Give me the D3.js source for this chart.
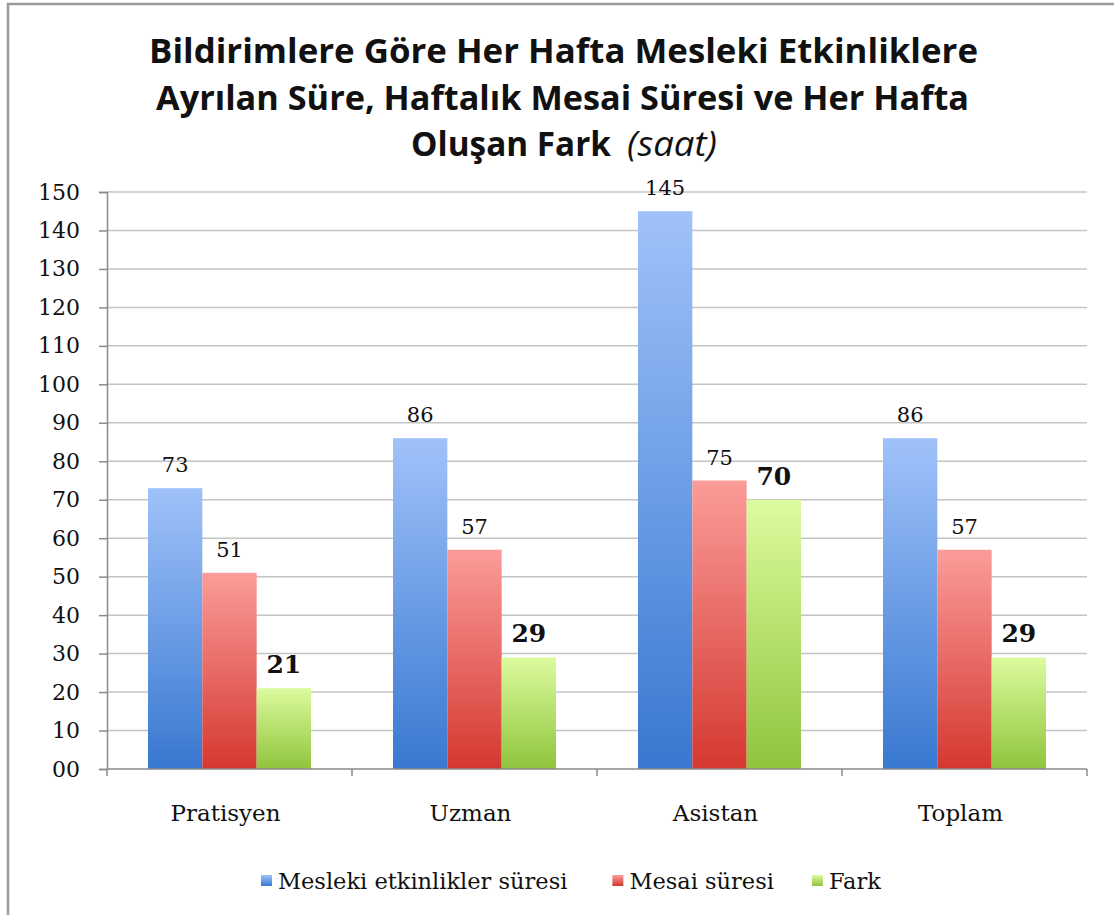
<!DOCTYPE html>
<html>
<head>
<meta charset="utf-8">
<script src="https://cdn.jsdelivr.net/npm/d3@7"></script>
<style>
	body { margin: 0; background: #fff; }
	svg text { fill: #111; }
</style>
</head>
<body>
<div id="chart"></div>
<script>
// data
const categories = ['Pratisyen', 'Uzman', 'Asistan', 'Toplam'];
const seriesNames = ['Mesleki etkinlikler süresi', 'Mesai süresi', 'Fark'];
const meslekiValues = [73, 86, 145, 86];
const mesaiValues = [51, 57, 75, 57];
const farkValues = [21, 29, 70, 29];
const yTicks = [0, 10, 20, 30, 40, 50, 60, 70, 80, 90, 100, 110, 120, 130, 140, 150];
const titleLines = [
	'Bildirimlere Göre Her Hafta Mesleki Etkinliklere',
	'Ayrılan Süre, Haftalık Mesai Süresi ve Her Hafta'
];

const series = [
	{ name: seriesNames[0], values: meslekiValues, top: '#a0c2fa', bottom: '#3878d0', bold: false },
	{ name: seriesNames[1], values: mesaiValues, top: '#fb9c99', bottom: '#d43830', bold: false },
	{ name: seriesNames[2], values: farkValues, top: '#dcfb9e', bottom: '#90c43c', bold: true }
];

const width = 1114;
const height = 915;
const margin = { top: 192, right: 27, bottom: 146, left: 107 };
const serif = '"DejaVu Serif", "Liberation Serif", serif';
const titleFont = '"Open Sans", "Liberation Sans", sans-serif';

const svg = d3.select('#chart')
	.append('svg')
	.attr('width', width)
	.attr('height', height);

const defs = svg.append('defs');
series.forEach((s, i) => {
	const grad = defs.append('linearGradient')
		.attr('id', 'grad' + i)
		.attr('x1', 0).attr('y1', 0)
		.attr('x2', 0).attr('y2', 1);
	grad.append('stop').attr('offset', '0%').attr('stop-color', s.top);
	grad.append('stop').attr('offset', '100%').attr('stop-color', s.bottom);
});

// outer frame
svg.append('rect')
	.attr('x', 8)
	.attr('y', 4)
	.attr('width', width + 20)
	.attr('height', height + 20)
	.attr('fill', 'none')
	.attr('stroke', '#9a9a9a')
	.attr('stroke-width', 2.5);

// title (condensed look via textLength)
const titleSize = 34;
const titleSpans = [
	{ y: 63, x: 149, len: 829 },
	{ y: 110, x: 156, len: 813 }
];
titleLines.forEach((line, i) => {
	svg.append('text')
		.attr('x', titleSpans[i].x)
		.attr('y', titleSpans[i].y)
		.attr('font-family', titleFont)
		.attr('font-weight', 'bold')
		.attr('font-size', titleSize)
		.attr('textLength', titleSpans[i].len)
		.attr('lengthAdjust', 'spacingAndGlyphs')
		.text(line);
});
svg.append('text')
	.attr('x', 411)
	.attr('y', 156)
	.attr('font-family', titleFont)
	.attr('font-weight', 'bold')
	.attr('font-size', titleSize)
	.attr('textLength', 200)
	.attr('lengthAdjust', 'spacingAndGlyphs')
	.text('Oluşan Fark');
svg.append('text')
	.attr('x', 627)
	.attr('y', 156)
	.attr('font-family', titleFont)
	.attr('font-style', 'italic')
	.attr('font-size', titleSize)
	.attr('textLength', 90)
	.attr('lengthAdjust', 'spacingAndGlyphs')
	.text('(saat)');

const innerW = width - margin.left - margin.right;
const innerH = height - margin.top - margin.bottom;

const g = svg.append('g')
	.attr('transform', `translate(${margin.left},${margin.top})`);

const x0 = d3.scaleBand()
	.domain(categories)
	.range([0, innerW]);

const x1 = d3.scaleBand()
	.domain(d3.range(series.length))
	.range([41, x0.bandwidth() - 41]);

const y = d3.scaleLinear()
	.domain([0, 150])
	.range([innerH, 0]);

// gridlines
g.append('g')
	.selectAll('line')
	.data(yTicks.filter((d) => d > 0))
	.join('line')
	.attr('x1', 0)
	.attr('x2', innerW)
	.attr('y1', (d) => y(d))
	.attr('y2', (d) => y(d))
	.attr('stroke', '#c4c4c4')
	.attr('stroke-width', 1.5);

// y axis
const yAxis = g.append('g')
	.call(d3.axisLeft(y)
		.tickValues(yTicks)
		.tickFormat(d3.format('02d'))
		.tickSize(8)
		.tickPadding(19));
yAxis.attr('font-family', serif).attr('font-size', 22);
yAxis.select('.domain').attr('stroke', '#8a8a8a').attr('stroke-width', 1.5);
yAxis.selectAll('.tick line').attr('stroke', '#8a8a8a').attr('stroke-width', 1.5);
yAxis.selectAll('.tick text').attr('fill', '#111');

// bars
const groups = g.append('g')
	.selectAll('g')
	.data(categories)
	.join('g')
	.attr('transform', (d) => `translate(${x0(d)},0)`);

series.forEach((s, i) => {
	groups.append('rect')
		.attr('x', x1(i))
		.attr('width', x1.bandwidth())
		.attr('y', (d, j) => y(s.values[j]))
		.attr('height', (d, j) => innerH - y(s.values[j]))
		.attr('fill', `url(#grad${i})`);

	groups.append('text')
		.attr('x', x1(i) + x1.bandwidth() / 2)
		.attr('y', (d, j) => y(s.values[j]) - (s.bold ? 15 : 16))
		.attr('text-anchor', 'middle')
		.attr('font-family', serif)
		.attr('font-weight', s.bold ? 'bold' : 'normal')
		.attr('font-size', s.bold ? 25 : 21)
		.text((d, j) => s.values[j]);
});

// x axis
const xAxisG = g.append('g')
	.attr('transform', `translate(0,${innerH})`);
xAxisG.append('line')
	.attr('x1', 0)
	.attr('x2', innerW)
	.attr('stroke', '#8a8a8a')
	.attr('stroke-width', 1.5);
xAxisG.selectAll('line.tick')
	.data(d3.range(categories.length + 1))
	.join('line')
	.attr('class', 'tick')
	.attr('x1', (d) => d * x0.bandwidth())
	.attr('x2', (d) => d * x0.bandwidth())
	.attr('y1', 0)
	.attr('y2', 7)
	.attr('stroke', '#8a8a8a')
	.attr('stroke-width', 1.5);
xAxisG.selectAll('text')
	.data(categories)
	.join('text')
	.attr('x', (d) => x0(d) + x0.bandwidth() / 2 - 4)
	.attr('y', 52)
	.attr('text-anchor', 'middle')
	.attr('font-family', serif)
	.attr('font-size', 23)
	.text((d) => d);

// legend
const legend = svg.append('g')
	.attr('transform', 'translate(261,889)');
let lx = 0;
const legendGap = [0, 45, 38];
series.forEach((s, i) => {
	lx += legendGap[i];
	legend.append('rect')
		.attr('x', lx)
		.attr('y', -14)
		.attr('width', 11)
		.attr('height', 11)
		.attr('fill', `url(#grad${i})`);
	const t = legend.append('text')
		.attr('x', lx + 17)
		.attr('y', 0)
		.attr('font-family', serif)
		.attr('font-size', 22.5)
		.text(s.name);
	lx += 17 + t.node().getComputedTextLength();
});
</script>
</body>
</html>
